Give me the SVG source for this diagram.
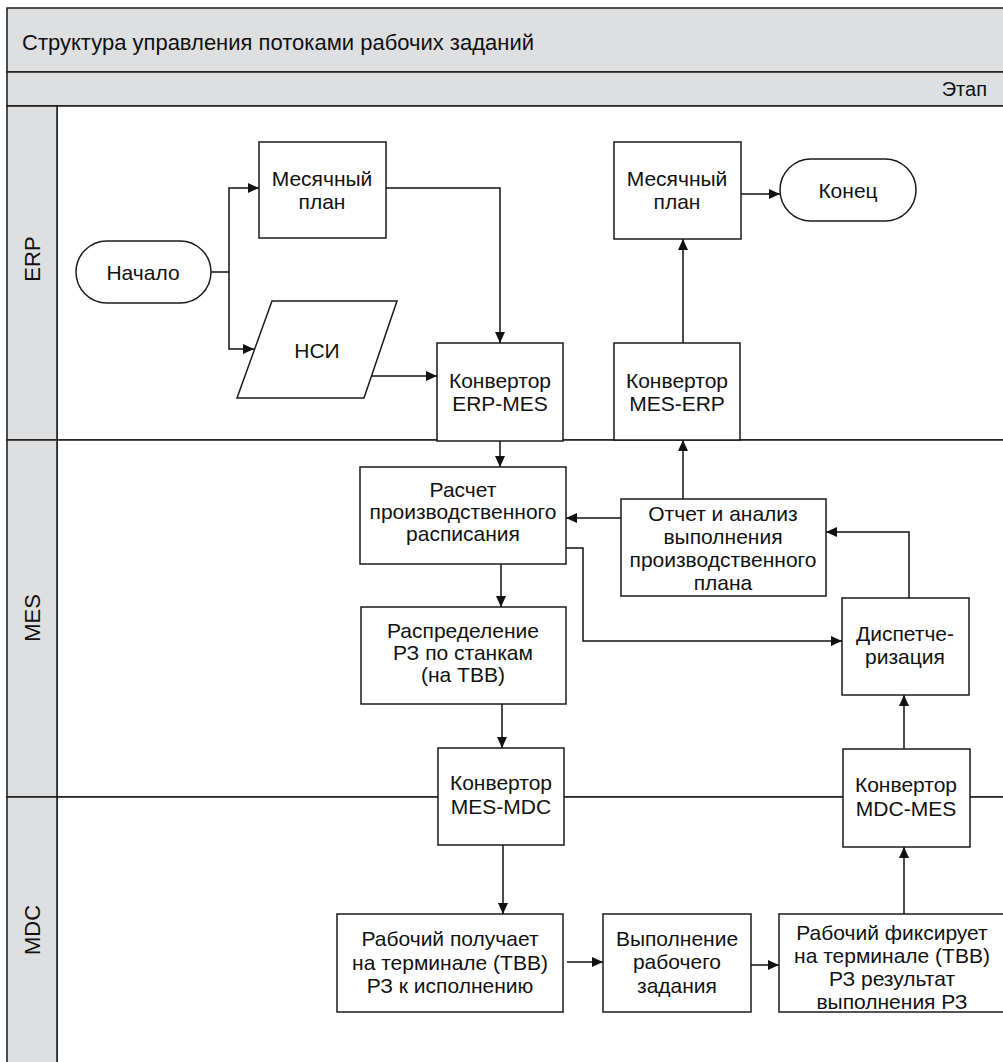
<svg xmlns="http://www.w3.org/2000/svg" width="1003" height="1062" viewBox="0 0 1003 1062">
<style>
.band{fill:#dedfe1;stroke:#1a1a1a;stroke-width:1.5}
.lane{fill:#ffffff;stroke:#1a1a1a;stroke-width:1.5}
.box{fill:#ffffff;stroke:#1a1a1a;stroke-width:1.5}
.t{font-family:"Liberation Sans",Arial,sans-serif;font-size:21px;fill:#111;text-anchor:middle}
.title{font-family:"Liberation Sans",Arial,sans-serif;font-size:22px;fill:#111}
.lbl{font-family:"Liberation Sans",Arial,sans-serif;font-size:22px;fill:#111;text-anchor:middle}
.c{fill:none;stroke:#111;stroke-width:1.5;marker-end:url(#ah)}
.cn{fill:none;stroke:#111;stroke-width:1.5}
</style>
<defs>
<marker id="ah" markerUnits="userSpaceOnUse" markerWidth="12" markerHeight="10" refX="11" refY="5" orient="auto">
<path d="M0,0 L11,5 L0,10 Z" fill="#111"/>
</marker>
</defs>
<rect x="0" y="0" width="1003" height="1062" fill="#ffffff"/>
<g id="frame">
<rect class="band" x="7" y="8" width="1010" height="64"/>
<text class="title" x="22" y="50">Структура управления потоками рабочих заданий</text>
<rect class="band" x="7" y="72" width="1010" height="34"/>
<text class="title" x="987" y="96" style="font-size:20px;text-anchor:end">Этап</text>
<rect class="lane" x="57" y="106" width="960" height="334"/>
<rect class="lane" x="57" y="440" width="960" height="357"/>
<rect class="lane" x="57" y="797" width="960" height="280"/>
<rect class="band" x="7" y="106" width="50" height="334"/>
<rect class="band" x="7" y="440" width="50" height="357"/>
<rect class="band" x="7" y="797" width="50" height="280"/>
<text class="lbl" transform="translate(40,259) rotate(-90)">ERP</text>
<text class="lbl" transform="translate(40,618) rotate(-90)">MES</text>
<text class="lbl" transform="translate(40,930) rotate(-90)">MDC</text>
</g>
<g id="connectors">
<path class="cn" d="M211,272 H229"/>
<path class="c" d="M229,272 V188 H259"/>
<path class="c" d="M229,272 V349 H254"/>
<path class="c" d="M386,188 H500 V343"/>
<path class="c" d="M372,376 H437"/>
<path class="c" d="M500,441 V467"/>
<path class="c" d="M501,564 V607"/>
<path class="c" d="M502,704 V748"/>
<path class="c" d="M503,845 V914"/>
<path class="c" d="M567,962 H603"/>
<path class="c" d="M751,965 H779"/>
<path class="c" d="M904,914 V847"/>
<path class="c" d="M904,749 V695"/>
<path class="c" d="M909,598 V532 H826"/>
<path class="c" d="M566,548 H583 V641 H842"/>
<path class="c" d="M621,518 H566"/>
<path class="c" d="M683,499 V440"/>
<path class="c" d="M683,343 V239"/>
<path class="c" d="M741,194 H780"/>
</g>
<g id="n-start">
<rect class="box" x="76" y="241" width="135" height="62" rx="31" ry="31"/>
<text class="t" x="143" y="280">Начало</text>
</g>
<g id="n-plan1">
<rect class="box" x="259" y="142" width="127" height="96"/>
<text class="t" x="322" y="186">Месячный</text>
<text class="t" x="322" y="209">план</text>
</g>
<g id="n-nsi">
<path class="box" d="M272,301 H397 L364,398 H237 Z"/>
<text class="t" x="317" y="358">НСИ</text>
</g>
<g id="n-conv-erp-mes">
<rect class="box" x="437" y="343" width="126" height="98"/>
<text class="t" x="500" y="388">Конвертор</text>
<text class="t" x="500" y="411">ERP-MES</text>
</g>
<g id="n-plan2">
<rect class="box" x="614" y="142" width="127" height="97"/>
<text class="t" x="677" y="186">Месячный</text>
<text class="t" x="677" y="209">план</text>
</g>
<g id="n-end">
<rect class="box" x="780" y="159" width="136" height="62" rx="31" ry="31"/>
<text class="t" x="848" y="198">Конец</text>
</g>
<g id="n-conv-mes-erp">
<rect class="box" x="614" y="343" width="126" height="97"/>
<text class="t" x="677" y="388">Конвертор</text>
<text class="t" x="677" y="411">MES-ERP</text>
</g>
<g id="n-calc">
<rect class="box" x="360" y="467" width="206" height="97"/>
<text class="t" x="463" y="497">Расчет</text>
<text class="t" x="463" y="519">производственного</text>
<text class="t" x="463" y="541">расписания</text>
</g>
<g id="n-report">
<rect class="box" x="621" y="499" width="205" height="97"/>
<text class="t" x="723" y="521">Отчет и анализ</text>
<text class="t" x="723" y="544">выполнения</text>
<text class="t" x="723" y="567">производственного</text>
<text class="t" x="723" y="590">плана</text>
</g>
<g id="n-distrib">
<rect class="box" x="361" y="607" width="205" height="97"/>
<text class="t" x="463" y="638">Распределение</text>
<text class="t" x="463" y="660">РЗ по станкам</text>
<text class="t" x="463" y="682">(на ТВВ)</text>
</g>
<g id="n-dispatch">
<rect class="box" x="842" y="598" width="127" height="97"/>
<text class="t" x="905" y="641">Диспетче-</text>
<text class="t" x="905" y="664">ризация</text>
</g>
<g id="n-conv-mes-mdc">
<rect class="box" x="438" y="748" width="126" height="97"/>
<text class="t" x="501" y="790">Конвертор</text>
<text class="t" x="501" y="814">MES-MDC</text>
</g>
<g id="n-conv-mdc-mes">
<rect class="box" x="843" y="749" width="127" height="98"/>
<text class="t" x="906" y="792">Конвертор</text>
<text class="t" x="906" y="816">MDC-MES</text>
</g>
<g id="n-receive">
<rect class="box" x="337" y="914" width="226" height="98"/>
<text class="t" x="450" y="946">Рабочий получает</text>
<text class="t" x="450" y="970">на терминале (ТВВ)</text>
<text class="t" x="450" y="993">РЗ к исполнению</text>
</g>
<g id="n-exec">
<rect class="box" x="603" y="914" width="148" height="98"/>
<text class="t" x="677" y="946">Выполнение</text>
<text class="t" x="677" y="969">рабочего</text>
<text class="t" x="677" y="993">задания</text>
</g>
<g id="n-fix">
<rect class="box" x="779" y="914" width="230" height="98"/>
<text class="t" x="892" y="940">Рабочий фиксирует</text>
<text class="t" x="892" y="963">на терминале (ТВВ)</text>
<text class="t" x="892" y="986">РЗ результат</text>
<text class="t" x="892" y="1009">выполнения РЗ</text>
</g>
</svg>
